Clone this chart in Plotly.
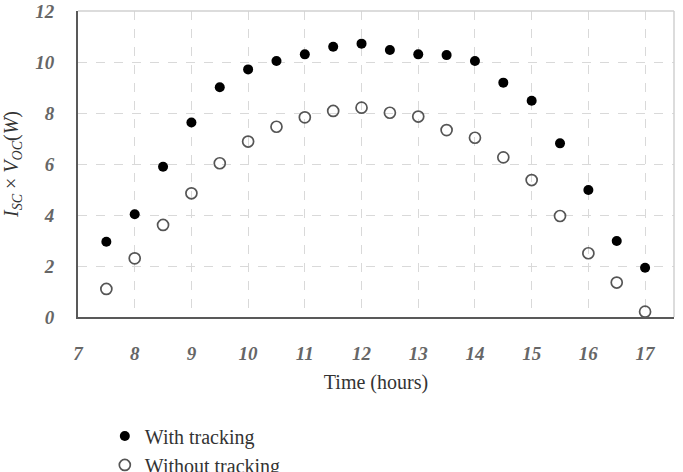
import plotly.graph_objects as go

hours = [7.5, 8, 8.5, 9, 9.5, 10, 10.5, 11, 11.5, 12, 12.5, 13, 13.5, 14, 14.5, 15, 15.5, 16, 16.5, 17]
with_tracking = [2.95, 4.03, 5.89, 7.63, 9.01, 9.71, 10.04, 10.30, 10.60, 10.72, 10.47, 10.30, 10.27, 10.04, 9.19, 8.48, 6.81, 4.98, 2.98, 1.93]
without_tracking = [1.10, 2.30, 3.61, 4.85, 6.03, 6.88, 7.46, 7.83, 8.08, 8.21, 8.01, 7.86, 7.33, 7.03, 6.26, 5.37, 3.96, 2.50, 1.35, 0.21]
x_ticks = list(range(7, 18))
y_ticks = [0, 2, 4, 6, 8, 10, 12]

SERIF = "Liberation Serif, Times New Roman, serif"

fig = go.Figure()
fig.add_trace(go.Scatter(
    x=hours, y=with_tracking, mode="markers", name="With tracking",
    marker=dict(symbol="circle", size=10, color="black", line=dict(width=0)),
))
fig.add_trace(go.Scatter(
    x=hours, y=without_tracking, mode="markers", name="Without tracking",
    marker=dict(symbol="circle-open", size=11, color="#555555", line=dict(width=1.7, color="#555555")),
))

fig.update_layout(
    width=683, height=472,
    margin=dict(l=78, r=9, t=11, b=155, autoexpand=False),
    paper_bgcolor="white", plot_bgcolor="white",
    font=dict(family=SERIF, color="#333333"),
    showlegend=True,
    legend=dict(
        x=0.045, y=-0.325, xanchor="left", yanchor="top",
        font=dict(family=SERIF, size=20, color="#333333"),
        bgcolor="rgba(0,0,0,0)", itemwidth=30, tracegroupgap=0,
    ),
    xaxis=dict(
        range=[7, 17.51], tickvals=x_ticks, ticktext=[str(v) for v in x_ticks],
        showgrid=True, gridcolor="#d9d9d9", griddash="dash", gridwidth=1,
        zeroline=False, showline=True, linecolor="#595959", linewidth=2, mirror=False,
        ticks="", ticklabelstandoff=18,
        tickfont=dict(family=SERIF, size=19, color="#666666", weight="bold", style="italic"),
        title=dict(text="Time (hours)", font=dict(family=SERIF, size=20, color="#333333"), standoff=12),
    ),
    yaxis=dict(
        range=[0, 12], tickvals=y_ticks, ticktext=[str(v) for v in y_ticks],
        showgrid=True, gridcolor="#d9d9d9", griddash="dash", gridwidth=1,
        zeroline=False, showline=True, linecolor="#595959", linewidth=2, mirror=False,
        ticks="", ticklabelstandoff=18,
        tickfont=dict(family=SERIF, size=19, color="#666666", weight="bold", style="italic"),
        title=dict(text="<i>I</i><sub><i>SC</i></sub> × <i>V</i><sub><i>OC</i></sub>(<i>W</i>)",
                   font=dict(family=SERIF, size=20, color="#333333"), standoff=11),
    ),
)

# light top/right frame
fig.add_shape(type="line", xref="paper", yref="paper", x0=0, x1=1, y0=1, y1=1,
              line=dict(color="#d0d0d0", width=1.5))
fig.add_shape(type="line", xref="paper", yref="paper", x0=1, x1=1, y0=0, y1=1,
              line=dict(color="#d0d0d0", width=1.5))

fig.write_html("out.html")
